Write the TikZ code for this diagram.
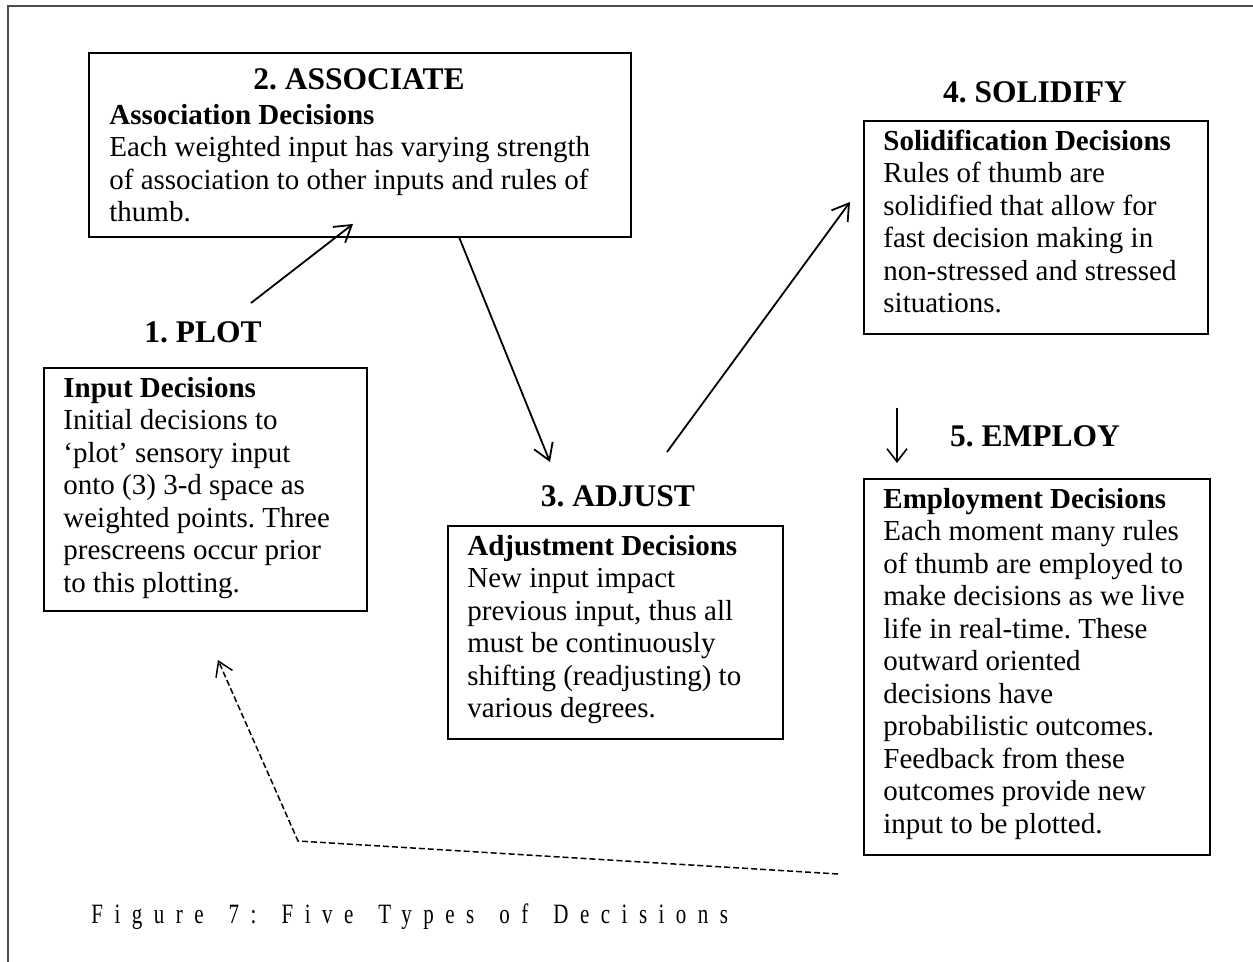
\documentclass[tikz,border=0pt]{standalone}
\usepackage{fontspec}
\setmainfont{Liberation Serif}
\newfontfamily\capfont[LetterSpace=41,FakeStretch=0.75,WordSpace=1.5]{Liberation Serif}
\usetikzlibrary{arrows.meta}
\frenchspacing
\begin{document}
\begin{tikzpicture}[x=0.5pt,y=-0.5pt,
  boxframe/.style={draw, line width=1pt, inner sep=0pt, anchor=north west},
  txt/.style={anchor=north west, inner sep=0pt, align=left, font=\fontsize{14.5}{16.25}\selectfont\frenchspacing},
  ttl/.style={anchor=base, inner sep=0pt, font=\fontsize{15.75}{18}\selectfont\bfseries},
  arr/.style={line width=0.9pt, -{Straight Barb[length=8pt,width=10pt]}},
  fback/.style={line width=0.75pt, dash pattern=on 3pt off 1.5pt, -{Straight Barb[length=7pt,width=9pt]}},
]
\useasboundingbox (0,0) rectangle (1253,962);
\draw[gray!60!black, line width=1pt] (7.5,962) -- (7.5,6) -- (1253,6);

% boxes
\node[boxframe, minimum width=271pt, minimum height=92pt] (assoc) at (88,52) {};
\node[boxframe, minimum width=161.5pt, minimum height=121.5pt] (plot) at (43,367) {};
\node[boxframe, minimum width=167.5pt, minimum height=106.5pt] (adjust) at (447,525) {};
\node[boxframe, minimum width=172pt, minimum height=106.5pt] (solid) at (863,120) {};
\node[boxframe, minimum width=173pt, minimum height=188pt] (employ) at (863,478) {};

% titles
\node[ttl] (t1) at (203,343) {1. PLOT};
\node[ttl] (t2) at (359,90) {2. ASSOCIATE};
\node[ttl] (t3) at (618,507) {3. ADJUST};
\node[ttl] (t4) at (1035,103) {4. SOLIDIFY};
\node[ttl] (t5) at (1035,447) {5. EMPLOY};

% texts
\node[txt] (x2) at (109,101.25) {\strut\textbf{Association Decisions}\\Each weighted input has varying strength\\of association to other inputs and rules of\\thumb.};
\node[txt] (x1) at (63,374.25) {\strut\textbf{Input Decisions}\\Initial decisions to\\‘plot’ sensory input\\onto (3) 3-d space as\\weighted points. Three\\prescreens occur prior\\to this plotting.};
\node[txt] (x3) at (467,532.25) {\strut\textbf{Adjustment Decisions}\\New input impact\\previous input, thus all\\must be continuously\\shifting (readjusting) to\\various degrees.};
\node[txt] (x4) at (883,127.25) {\strut\textbf{Solidification Decisions}\\Rules of thumb are\\solidified that allow for\\fast decision making in\\non-stressed and stressed\\situations.};
\node[txt] (x5) at (883,485.25) {\strut\textbf{Employment Decisions}\\Each moment many rules\\of thumb are employed to\\make decisions as we live\\life in real-time. These\\outward oriented\\decisions have\\probabilistic outcomes.\\Feedback from these\\outcomes provide new\\input to be plotted.};

% caption
\node[anchor=base west, inner sep=0pt, font=\capfont\fontsize{14}{16}\selectfont] (cap) at (91,923) {Figure 7: Five Types of Decisions};

% connectors
\coordinate (a1s) at (251,303); \coordinate (a1e) at (353,224);
\coordinate (a2s) at (459,237); \coordinate (a2e) at (550,462);
\coordinate (a3s) at (667,452); \coordinate (a3e) at (850,202);
\coordinate (a4s) at (897,408); \coordinate (a4e) at (897,463);
\coordinate (fbs) at (838,874); \coordinate (fbc) at (298,841); \coordinate (fbe) at (218,660);
\draw[arr] (a1s) -- (a1e);
\draw[arr] (a2s) -- (a2e);
\draw[arr] (a3s) -- (a3e);
\draw[line width=0.8pt, -{Straight Barb[length=6.5pt,width=10pt]}] (a4s) -- (a4e);
\draw[fback] (fbs) -- (fbc) -- (fbe);
\end{tikzpicture}
\end{document}
